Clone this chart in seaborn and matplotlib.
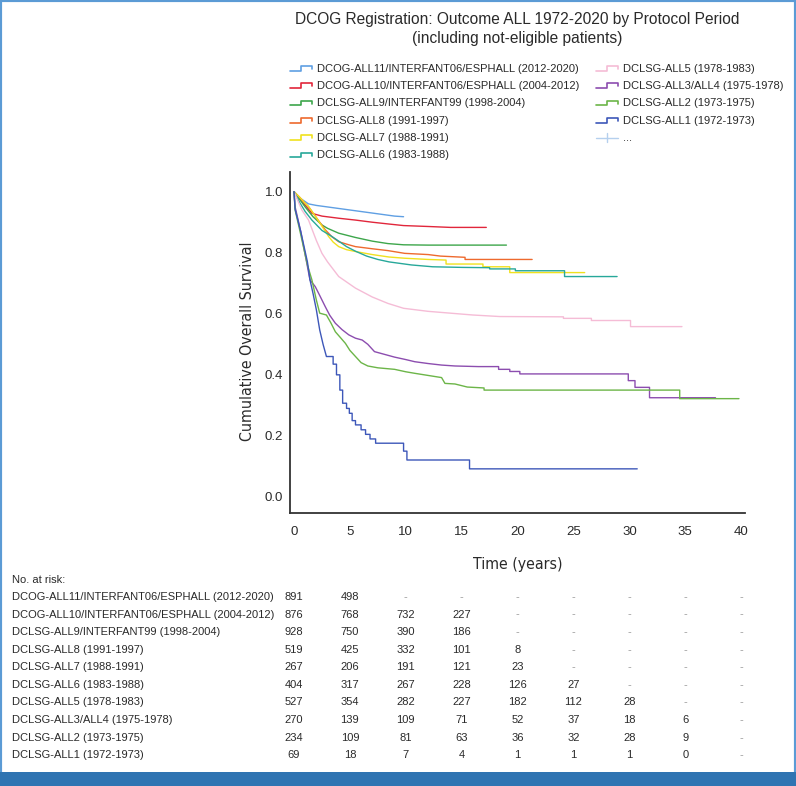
import numpy as np
import pandas as pd
import matplotlib
matplotlib.use("Agg")
import matplotlib.pyplot as plt
import matplotlib.transforms as mtransforms
from matplotlib.lines import Line2D
from matplotlib.patches import Rectangle
from matplotlib.legend_handler import HandlerBase
from matplotlib import font_manager
from matplotlib.font_manager import FontProperties
import seaborn as sns

# ---------------- data ----------------
protocols = [
    "DCOG-ALL11/INTERFANT06/ESPHALL (2012-2020)",
    "DCOG-ALL10/INTERFANT06/ESPHALL (2004-2012)",
    "DCLSG-ALL9/INTERFANT99 (1998-2004)",
    "DCLSG-ALL8 (1991-1997)",
    "DCLSG-ALL7 (1988-1991)",
    "DCLSG-ALL6 (1983-1988)",
    "DCLSG-ALL5 (1978-1983)",
    "DCLSG-ALL3/ALL4 (1975-1978)",
    "DCLSG-ALL2 (1973-1975)",
    "DCLSG-ALL1 (1972-1973)",
]
colors = ["#5f9fe3", "#e1263b", "#3da64b", "#ee6a2e", "#f0e11e",
          "#27a89a", "#f5bcd6", "#8c4daf", "#6cb548", "#3d57b9"]

# survival curves (time in years, cumulative survival); repeated times mark visible steps
t_all11 = [0, 0.5, 1.3, 2, 3, 4, 5, 6, 7, 8, 9, 9.8]
s_all11 = [1, 0.98, 0.96, 0.955, 0.95, 0.945, 0.94, 0.935, 0.93, 0.925, 0.92, 0.918]

t_all10 = [0, 0.5, 1.0, 1.6, 2.5, 4, 5.5, 7, 8.5, 9.8, 12, 14, 17.2]
s_all10 = [1, 0.978, 0.956, 0.929, 0.92, 0.913, 0.907, 0.9, 0.894, 0.889, 0.886, 0.883, 0.883]

t_all9 = [0, 0.5, 1.0, 1.7, 2.5, 3.0, 4.0, 5.5, 7.0, 8.4, 9.8, 12, 19.0]
s_all9 = [1, 0.975, 0.95, 0.918, 0.891, 0.88, 0.864, 0.85, 0.838, 0.83, 0.826, 0.825, 0.825]

t_all8 = [0, 0.5, 1.0, 1.3, 2.0, 2.8, 3.4, 4.0, 5.0, 5.5, 7.0, 8.4, 9.9, 12, 13.1, 15.3, 15.3, 21.3]
s_all8 = [1, 0.982, 0.962, 0.951, 0.915, 0.875, 0.852, 0.836, 0.825, 0.82, 0.813, 0.807, 0.798, 0.794, 0.789, 0.785, 0.778, 0.778]

t_all7 = [0, 0.5, 1.0, 1.3, 2.0, 2.8, 3.1, 3.5, 4.0, 4.7, 5.5, 7.0, 8.5, 9.9, 12, 13.6, 13.6, 16.9, 16.9, 19.3, 19.3, 26.0]
s_all7 = [1, 0.982, 0.962, 0.951, 0.915, 0.87, 0.853, 0.835, 0.82, 0.81, 0.804, 0.794, 0.786, 0.782, 0.778, 0.776, 0.763, 0.763, 0.754, 0.754, 0.735, 0.735]

t_all6 = [0, 0.5, 1.0, 1.6, 2.5, 3.4, 4.0, 4.7, 5.5, 6.5, 7.5, 8.5, 9.5, 10.5, 12.4, 15, 17.5, 17.5, 19.8, 19.8, 24.2, 24.2, 28.9]
s_all6 = [1, 0.965, 0.935, 0.907, 0.873, 0.853, 0.838, 0.82, 0.805, 0.789, 0.778, 0.77, 0.765, 0.76, 0.754, 0.752, 0.751, 0.747, 0.747, 0.741, 0.741, 0.722, 0.722]

t_all5 = [0, 0.7, 1.3, 2.0, 2.5, 3.0, 4.0, 5.5, 7.0, 8.4, 9.8, 12, 14, 16, 18.4, 24.1, 24.1, 26.6, 26.6, 30.1, 30.1, 34.7]
s_all5 = [1, 0.94, 0.907, 0.84, 0.798, 0.77, 0.722, 0.684, 0.655, 0.634, 0.618, 0.608, 0.602, 0.596, 0.591, 0.59, 0.585, 0.585, 0.578, 0.578, 0.558, 0.558]

t_all34 = [0, 0.1, 0.6, 1.2, 1.43, 1.9, 2.3, 2.8, 3.2, 3.7, 4.3, 4.9, 5.5, 6.1, 6.6, 7.2, 8.0, 9.0, 10.0, 10.8, 12.0, 13.2, 14.4, 16.5, 18.3, 18.3, 19.3, 19.3, 20.2, 20.2, 29.9, 29.9, 30.5, 30.5, 31.8, 31.8, 37.7]
s_all34 = [1, 0.95, 0.87, 0.755, 0.711, 0.689, 0.66, 0.623, 0.595, 0.569, 0.548, 0.531, 0.52, 0.514, 0.50, 0.476, 0.468, 0.458, 0.45, 0.443, 0.437, 0.432, 0.429, 0.427, 0.427, 0.418, 0.418, 0.411, 0.411, 0.403, 0.403, 0.381, 0.381, 0.359, 0.359, 0.325, 0.325]

t_all2 = [0, 0.1, 0.6, 1.2, 1.6, 2.0, 2.3, 2.9, 3.3, 3.7, 4.2, 4.6, 5.0, 5.5, 6.0, 6.6, 7.5, 9.0, 10.0, 10.8, 12.0, 13.2, 13.5, 14.4, 15.5, 17.0, 17.0, 34.5, 34.5, 39.8]
s_all2 = [1, 0.94, 0.86, 0.76, 0.711, 0.645, 0.602, 0.596, 0.57, 0.541, 0.52, 0.503, 0.48, 0.46, 0.44, 0.429, 0.423, 0.418, 0.41, 0.405, 0.398, 0.391, 0.372, 0.37, 0.36, 0.357, 0.35, 0.35, 0.322, 0.322]

t_all1 = [0, 0.1, 0.6, 1.2, 1.43, 1.7, 2.0, 2.3, 2.6, 2.9, 3.5, 3.5, 3.8, 3.8, 4.1, 4.1, 4.35, 4.35, 4.7, 4.7, 4.95, 4.95, 5.2, 5.2, 5.5, 5.5, 6.0, 6.0, 6.4, 6.4, 6.8, 6.8, 7.3, 7.3, 9.8, 9.8, 10.1, 10.1, 15.7, 15.7, 30.7]
s_all1 = [1, 0.942, 0.87, 0.77, 0.711, 0.667, 0.613, 0.547, 0.50, 0.46, 0.46, 0.435, 0.435, 0.40, 0.40, 0.35, 0.35, 0.307, 0.307, 0.29, 0.29, 0.274, 0.274, 0.25, 0.25, 0.236, 0.236, 0.22, 0.22, 0.205, 0.205, 0.19, 0.19, 0.176, 0.176, 0.15, 0.15, 0.121, 0.121, 0.092, 0.092]

times = [t_all11, t_all10, t_all9, t_all8, t_all7, t_all6, t_all5, t_all34, t_all2, t_all1]
survs = [s_all11, s_all10, s_all9, s_all8, s_all7, s_all6, s_all5, s_all34, s_all2, s_all1]

risk_times = [0, 5, 10, 15, 20, 25, 30, 35, 40]
risk_all11 = ["891", "498", "-", "-", "-", "-", "-", "-", "-"]
risk_all10 = ["876", "768", "732", "227", "-", "-", "-", "-", "-"]
risk_all9 = ["928", "750", "390", "186", "-", "-", "-", "-", "-"]
risk_all8 = ["519", "425", "332", "101", "8", "-", "-", "-", "-"]
risk_all7 = ["267", "206", "191", "121", "23", "-", "-", "-", "-"]
risk_all6 = ["404", "317", "267", "228", "126", "27", "-", "-", "-"]
risk_all5 = ["527", "354", "282", "227", "182", "112", "28", "-", "-"]
risk_all34 = ["270", "139", "109", "71", "52", "37", "18", "6", "-"]
risk_all2 = ["234", "109", "81", "63", "36", "32", "28", "9", "-"]
risk_all1 = ["69", "18", "7", "4", "1", "1", "1", "0", "-"]
risk_rows = [risk_all11, risk_all10, risk_all9, risk_all8, risk_all7,
             risk_all6, risk_all5, risk_all34, risk_all2, risk_all1]

title_1 = "DCOG Registration: Outcome ALL 1972-2020 by Protocol Period"
title_2 = "(including not-eligible patients)"
x_ticks = [0, 5, 10, 15, 20, 25, 30, 35, 40]
y_ticks = [0.0, 0.2, 0.4, 0.6, 0.8, 1.0]

# ---------------- style ----------------
sns.set_style("white")
names = {f.name for f in font_manager.fontManager.ttflist}
base_font = "Liberation Sans" if "Liberation Sans" in names else "DejaVu Sans"
plt.rcParams["font.family"] = [base_font, "DejaVu Sans"]


def find_narrow():
    prefs = ["liberationsansnarrow-regular", "liberationsans-narrow", "dejavusanscondensed.ttf",
             "robotocondensed-regular", "opensans-condensed", "notosans-condensed.ttf",
             "notosanscondensed-regular"]
    files = [f.fname for f in font_manager.fontManager.ttflist]
    for p in prefs:
        for fn in files:
            if p in fn.lower().replace(" ", ""):
                return fn
    for fn in files:
        low = fn.lower()
        if ("narrow" in low or "condensed" in low) and "bold" not in low and "italic" not in low \
                and "oblique" not in low and "light" not in low:
            return fn
    return None


narrow_file = find_narrow()


def narrow_fp(size):
    if narrow_file:
        return FontProperties(fname=narrow_file, size=size)
    return FontProperties(family=base_font, size=size)


TXT = "#2a2a2a"

W, H = 796, 786
fig = plt.figure(figsize=(W / 100, H / 100), dpi=100)
fig.patch.set_facecolor("white")

ax_l, ax_r, ax_b, ax_t = 290, 745, 512.5, 172
ax = fig.add_axes([ax_l / W, 1 - ax_b / H, (ax_r - ax_l) / W, (ax_b - ax_t) / H])

frames = []
for i, (p, t, s) in enumerate(zip(protocols, times, survs)):
    frames.append(pd.DataFrame({"time": t, "surv": s, "protocol": p, "order": np.arange(len(t))}))
df = pd.concat(frames, ignore_index=True)

palette = dict(zip(protocols, colors))
sns.lineplot(data=df, x="time", y="surv", hue="protocol", hue_order=protocols,
             palette=palette, estimator=None, sort=False,
             linewidth=1.0, legend=False, ax=ax)

ax.set_xlim(-0.358, 40.34)
ax.set_ylim(-0.051, 1.0645)
ax.set_xticks(x_ticks)
ax.set_yticks(y_ticks)
ax.set_yticklabels([f"{v:.1f}" for v in y_ticks])
for sp in ["top", "right"]:
    ax.spines[sp].set_visible(False)
for sp in ["left", "bottom"]:
    ax.spines[sp].set_color("#333333")
    ax.spines[sp].set_linewidth(1.3)
ax.tick_params(axis="x", direction="out", length=4, width=1.1, color="#333333",
               labelsize=9.5, labelcolor=TXT, pad=6)
ax.tick_params(axis="y", length=0, labelsize=9.5, labelcolor=TXT, pad=5)
ax.grid(False)

xl = ax.set_xlabel("Time (years)", color=TXT, fontproperties=narrow_fp(14))
ax.xaxis.label.set_va("center")
ax.xaxis.set_label_coords(0.5, (ax_b - 565) / (ax_b - ax_t))
yl = ax.set_ylabel("Cumulative Overall Survival", color=TXT, fontproperties=narrow_fp(14))
ax.yaxis.label.set_va("center")
ax.yaxis.set_label_coords((247 - ax_l) / (ax_r - ax_l), (ax_b - 341.7) / (ax_b - ax_t))

# ---------------- title ----------------
t1 = fig.text(517 / W, 1 - 19.5 / H, title_1, ha="center", va="center", fontsize=11, color=TXT)
t2 = fig.text(517 / W, 1 - 38 / H, title_2, ha="center", va="center", fontsize=11, color=TXT)

# fit text sizes to the reference's measured extents
fig.canvas.draw()
r = fig.canvas.get_renderer()
wt = t1.get_window_extent(r).width
for t in (t1, t2):
    t.set_fontsize(11 * 443 / wt)
wx = ax.xaxis.label.get_window_extent(r).width
ax.xaxis.label.set_fontsize(14 * 90 / wx)
hy = ax.yaxis.label.get_window_extent(r).height
ax.yaxis.label.set_fontsize(14 * 200 / hy)


# ---------------- legend ----------------
class StepHandler(HandlerBase):
    def create_artists(self, legend, orig_handle, xdescent, ydescent, width, height, fontsize, trans):
        x0, y0 = -xdescent, -ydescent
        xs = [x0, x0 + 0.5 * width, x0 + 0.5 * width, x0 + width, x0 + width]
        ys = [y0 + 0.1 * height, y0 + 0.1 * height, y0 + 0.75 * height,
              y0 + 0.75 * height, y0 + 0.35 * height]
        ln = Line2D(xs, ys, color=orig_handle.get_color(), lw=1.2)
        ln.set_transform(trans)
        return [ln]


class CrossHandler(HandlerBase):
    def create_artists(self, legend, orig_handle, xdescent, ydescent, width, height, fontsize, trans):
        x0, y0 = -xdescent, -ydescent
        h = Line2D([x0, x0 + width], [y0 + 0.45 * height] * 2, color=orig_handle.get_color(), lw=1.0)
        v = Line2D([x0 + 0.5 * width] * 2, [y0 - 0.15 * height, y0 + 1.05 * height],
                   color=orig_handle.get_color(), lw=1.0)
        h.set_transform(trans)
        v.set_transform(trans)
        return [h, v]


handles = [Line2D([], [], color=c) for c in colors]
cross = Line2D([], [], color="#b5d0ee")
hmap = {h: StepHandler() for h in handles}
hmap[cross] = CrossHandler()

leg_kw = dict(loc="upper left", frameon=False, fontsize=8, handlelength=2.0,
              handleheight=0.6, handletextpad=0.45, labelspacing=0.66,
              borderpad=0, borderaxespad=0, handler_map=hmap, labelcolor=TXT)
leg1 = fig.legend(handles[:6], protocols[:6], bbox_to_anchor=(290 / W, 1 - 63.8 / H), **leg_kw)
leg2 = fig.legend(handles[6:] + [cross], protocols[6:] + ["..."],
                  bbox_to_anchor=(596 / W, 1 - 63.8 / H), **leg_kw)

# ---------------- number at risk table ----------------
fig.text(12 / W, 1 - 580 / H, "No. at risk:", ha="left", va="center", fontsize=8, color=TXT)
blend = mtransforms.blended_transform_factory(ax.transData, fig.transFigure)
row_y0, row_dy = 597.0, 17.58
for i, (p, row) in enumerate(zip(protocols, risk_rows)):
    y = 1 - (row_y0 + i * row_dy) / H
    fig.text(12 / W, y, p, ha="left", va="center", fontsize=8, color=TXT)
    for tx, val in zip(risk_times, row):
        col = "#9a9a9a" if val == "-" else TXT
        fig.text(tx, y, val, ha="center", va="center", fontsize=8, color=col, transform=blend)

# ---------------- frame ----------------
fig.add_artist(Rectangle((0, 0), 1, 1, transform=fig.transFigure, fill=False,
                         edgecolor="#5b9bd5", linewidth=3.0, zorder=10))
fig.add_artist(Rectangle((0, 0), 1, 14 / H, transform=fig.transFigure,
                         facecolor="#2f74b2", edgecolor="none", zorder=11))

fig.savefig("out.png", dpi=100, facecolor="white")
